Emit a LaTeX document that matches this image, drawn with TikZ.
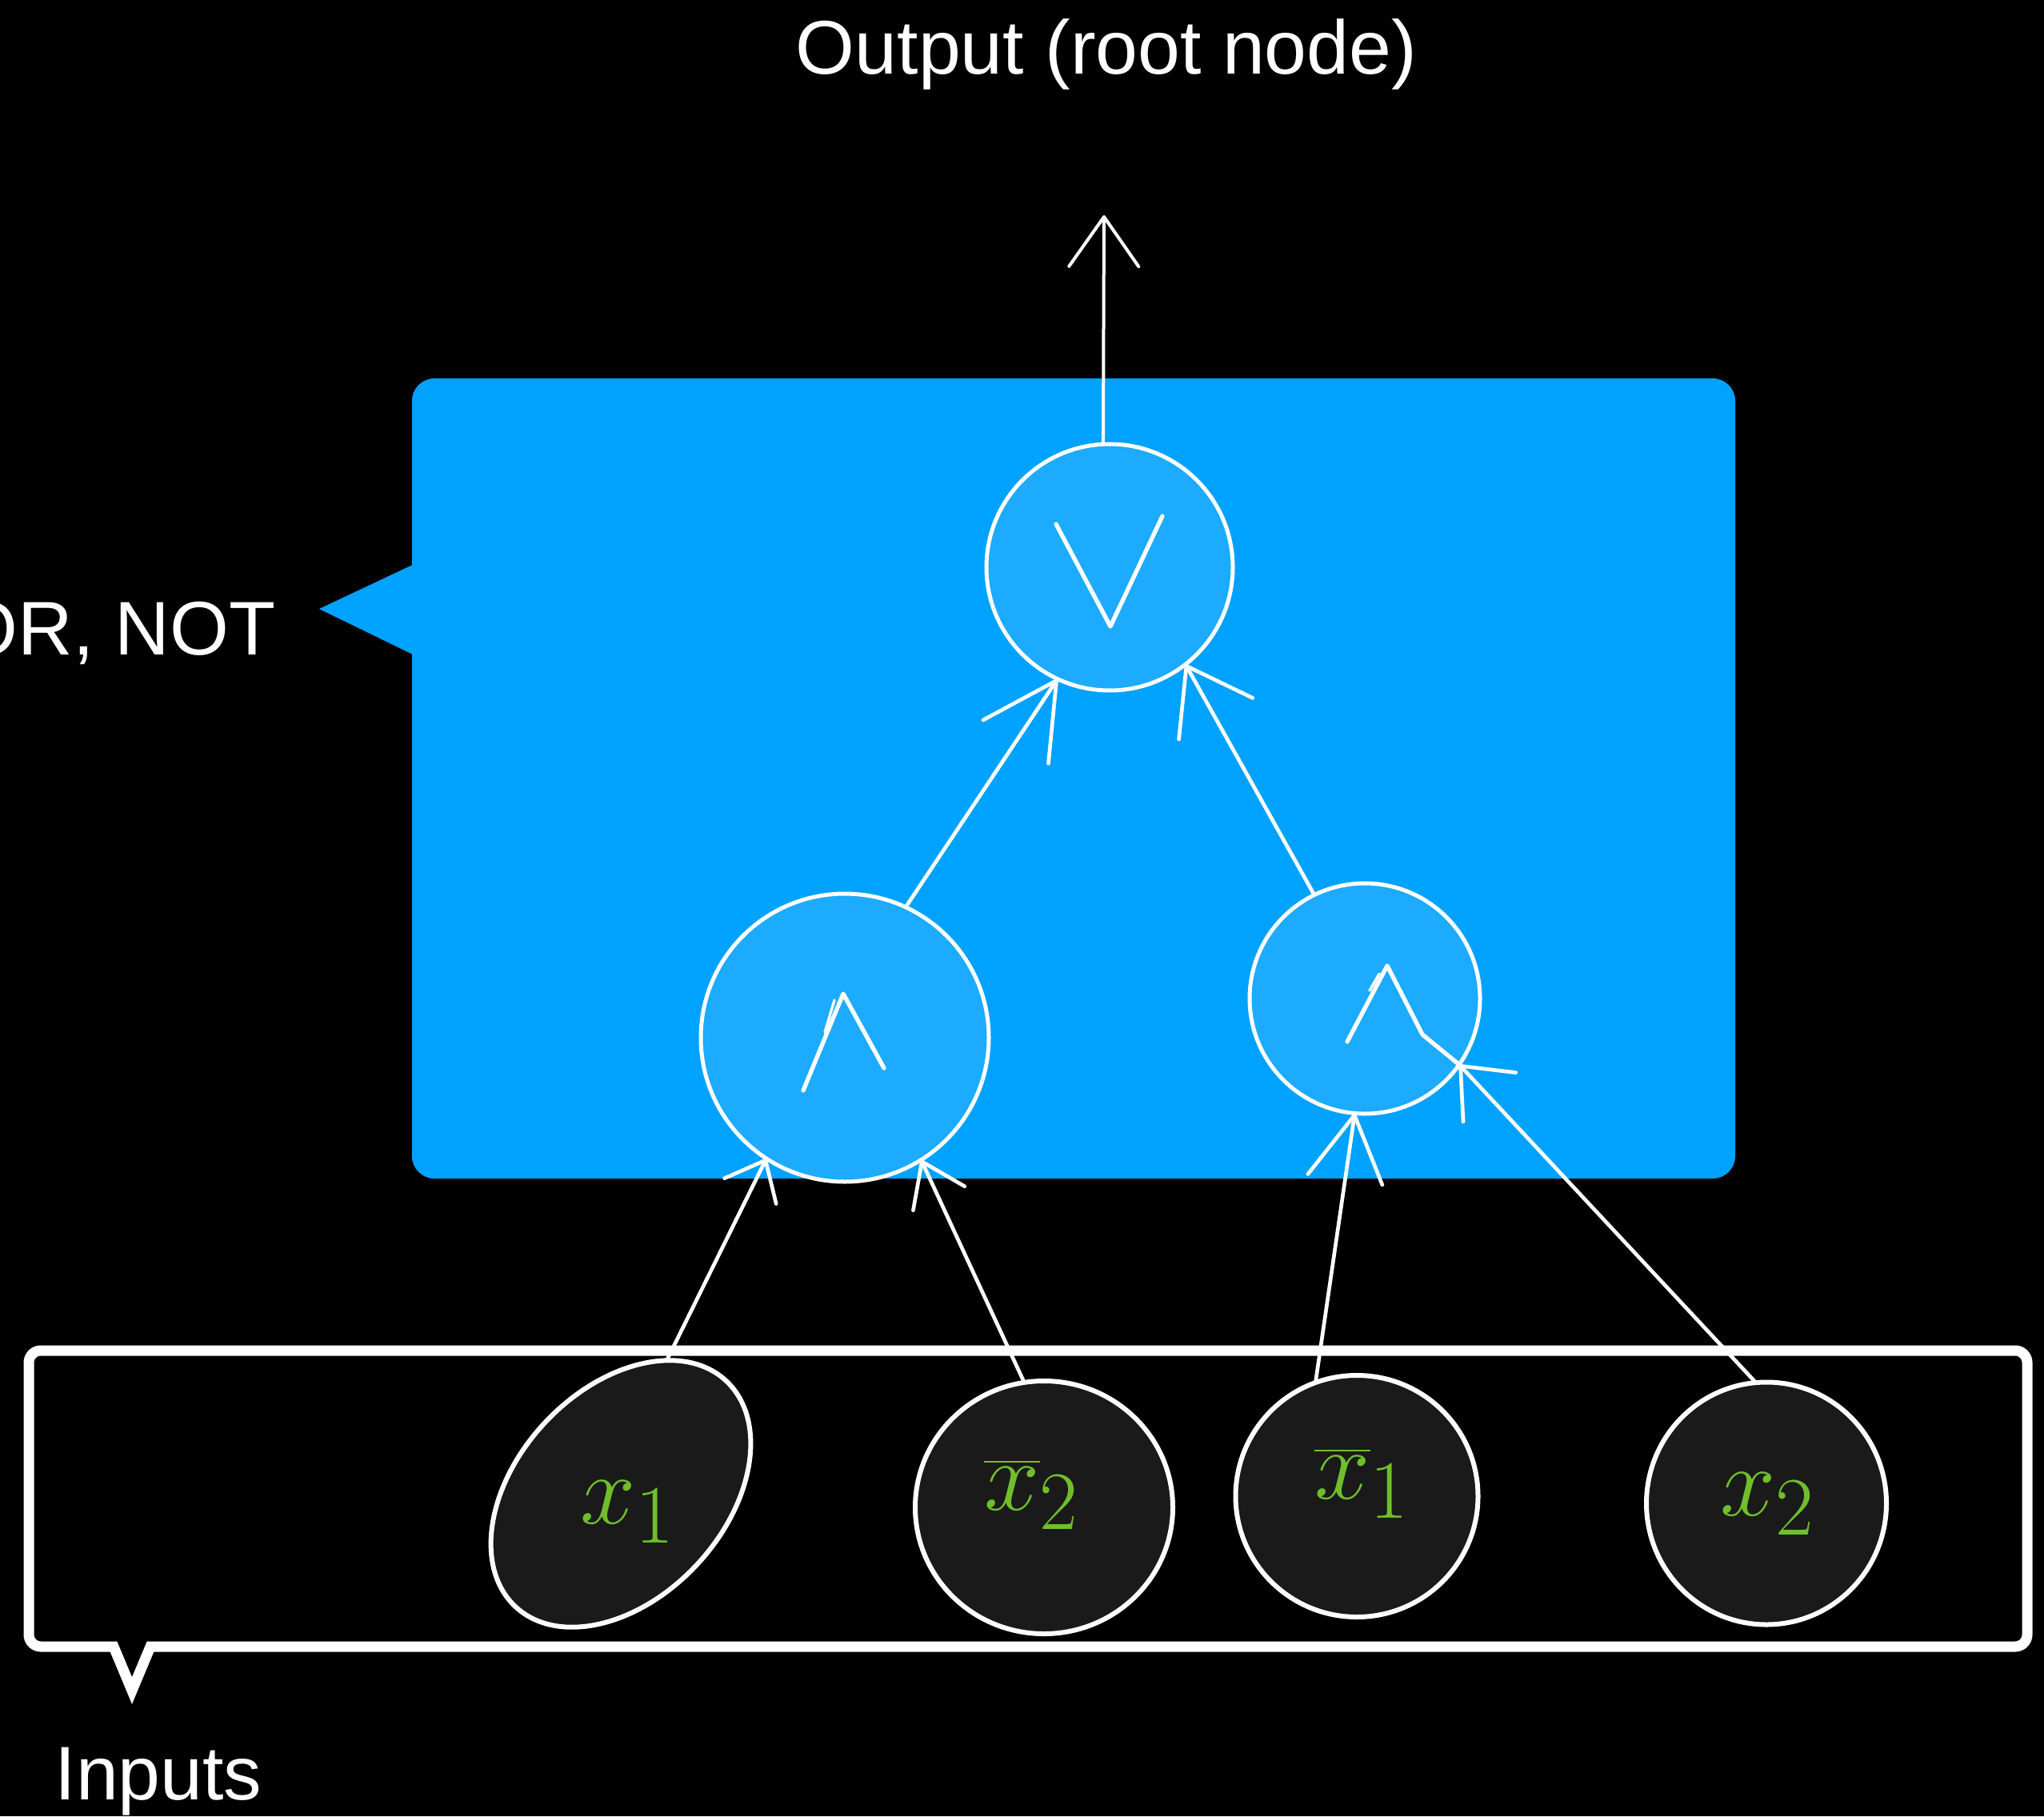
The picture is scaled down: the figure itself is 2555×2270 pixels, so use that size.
\documentclass[tikz,border=0pt]{standalone}
\usepackage{graphicx}
\usepackage{fontspec}
\setmainfont{Liberation Sans}
\usetikzlibrary{arrows.meta,shapes.geometric,calc}

\definecolor{panelblue}{RGB}{0,162,255}
\definecolor{gatefill}{RGB}{28,171,255}
\definecolor{leafgreen}{RGB}{112,190,44}
\definecolor{leaffill}{RGB}{26,26,26}

\newcommand{\leaftext}[1]{\scalebox{1.5}{\fontsize{24.88}{30}\selectfont#1}}

\begin{document}
\begin{tikzpicture}[x=0.3pt, y=-0.3pt,
  gate/.style={circle, draw=white, line width=1.5pt, fill=gatefill, inner sep=0pt, outer sep=0pt},
  leaf/.style={ellipse, draw=white, line width=1.8pt, fill=leaffill, inner sep=0pt, outer sep=0pt},
  leaflabel/.style={text=leafgreen, inner sep=0pt},
  caption/.style={text=white, font=\fontsize{28.5}{34}\selectfont, inner sep=0pt},
  wire/.style={draw=white, line width=1.4pt, line cap=round, line join=round},
  tipped/.style 2 args={-{Straight Barb[length=#1, width=#2, round]}},
  opmark/.style={white, line width=1.6pt, line cap=round, line join=round}]

% page and background
\path[use as bounding box, fill=black] (0,0) rectangle (2555,2270);

% captions
\node[caption, anchor=base] (outtxt) at (1383,93) {Output (root node)};
\node[caption, anchor=base east] (gatetxt) at (345,818) {OR, NOT};
\node[caption, anchor=base west] (intxt) at (68,2249) {Inputs};

% blue panel holding the gates, with its pointer
\fill[panelblue, rounded corners=8.4pt] (515,473) rectangle (2169,1473);
\fill[panelblue] (520,704) -- (399,761) -- (520,820) -- cycle;

% gate nodes
\node[gate, minimum size=92.4pt] (or) at (1387,709) {};
\node[gate, minimum size=108pt] (andL) at (1056,1297) {};
\node[gate, minimum size=86.4pt] (andR) at (1706,1248) {};

% hand-drawn operator marks
\draw[opmark] (1320,655) -- (1388,783) -- (1453,645);
\draw[opmark] (1004,1363) -- (1054,1242) -- (1105,1335);
\draw[opmark, line width=1pt] (1043,1250) -- (1031,1290);
\draw[opmark] (1684,1302) -- (1734,1207) -- (1778,1293) -- (andR.325);
\draw[opmark, line width=1pt] (1724,1217) -- (1712,1238);

% inputs bubble
\draw[white, line width=3.9pt, line join=miter]
  (165,2113) -- (188,2058) [rounded corners=4.5pt] -- (2534,2058) -- (2534,1688)
  -- (36,1688) -- (36,2058) [sharp corners] -- (142,2058) -- cycle;

% input leaves
\node[leaf, minimum width=115.8pt, minimum height=78pt, rotate=47] (x1) at (776,1867) {};
\node[leaf, minimum width=96.6pt, minimum height=94.8pt] (nx2) at (1305,1884) {};
\node[leaf, minimum width=90.9pt, minimum height=90.6pt] (nx1) at (1696,1870) {};
\node[leaf, minimum width=90pt, minimum height=90.9pt] (x2) at (2208,1879) {};

\node[leaflabel] (x1lab) at (785,1890) {\leaftext{$x_1$}};
\node[leaflabel] (nx2lab) at (1290,1868) {\leaftext{$\overline{x}_2$}};
\node[leaflabel] (nx1lab) at (1703,1854) {\leaftext{$\overline{x}_1$}};
\node[leaflabel] (x2lab) at (2210,1880) {\leaftext{$x_2$}};

% connectors
\coordinate (out) at (1380,269);
\draw[wire, line width=1.2pt, tipped={18.6pt}{26.1pt}] (or.93) -- (out);
\draw[wire, tipped={27.6pt}{29.4pt}] (andL.65) -- (or.245.6);
\draw[wire, tipped={22.6pt}{31.7pt}] (andR.116) -- (or.308);
\draw[wire, tipped={12.9pt}{21.6pt}] (x1.24) -- (andL.237);
\draw[wire, tipped={15.2pt}{21.3pt}] (nx2.99) -- (andL.302);
\draw[wire, tipped={24.4pt}{28.2pt}] (nx1.110) -- (andR.265);
\draw[wire, tipped={16pt}{27pt}] (x2.95) -- (andR.325);

\end{tikzpicture}
\end{document}
